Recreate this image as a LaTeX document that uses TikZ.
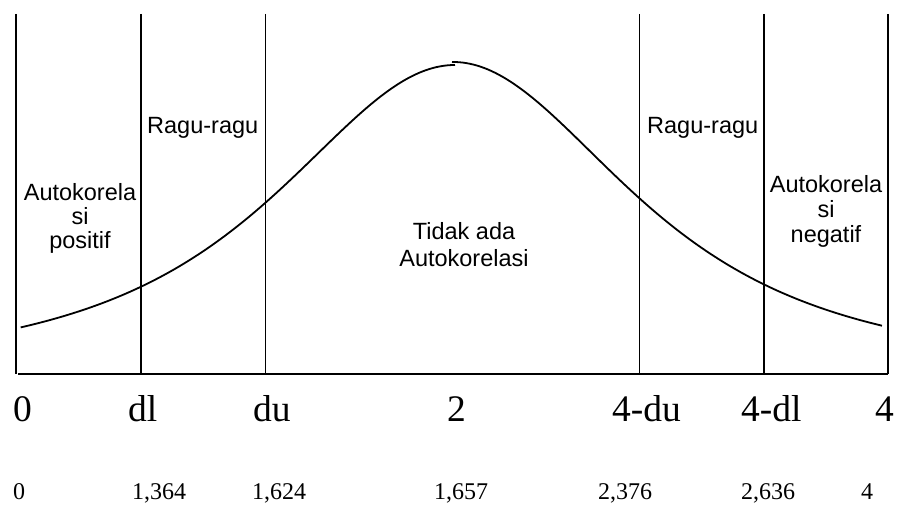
\documentclass[tikz,border=0pt]{standalone}
\usepackage{fontspec}
\setmainfont{Liberation Serif}
\newfontfamily\arialf{Liberation Sans}
\begin{document}
\begin{tikzpicture}[x=1pt,y=-1pt,
  lab/.style={font=\arialf\fontsize{23.5}{24}\selectfont, inner sep=0pt},
  big/.style={font=\fontsize{37.5}{40}\selectfont, inner sep=0pt, anchor=base west},
  val/.style={font=\fontsize{24}{26}\selectfont, inner sep=0pt, anchor=base west},
  bar/.style={line width=1.5pt},
  axisline/.style={line width=2pt},
  curve/.style={line width=1.8pt, line join=round}]
\useasboundingbox (0,0) rectangle (898,510);
% vertical boundaries
\foreach \n/\x in {0/16,1/141,2/265.5,3/639.5,4/764,5/888}{
  \coordinate (t\n) at (\x,14);
  \coordinate (b\n) at (\x,374);
  \draw[bar] (t\n) -- (b\n);
}
\coordinate (h0) at (18,374);
\draw[axisline] (h0) -- (b5);
% curve (two pieces meeting at the peak)
\draw[curve] plot[domain=20.7:455, samples=120, variable=\t]
  (\t,{374-309/(1+((\t-455)/273)^2)^1.5});
\draw[curve] plot[domain=452:882, samples=120, variable=\t]
  (\t,{374-312/(1+((\t-453)/273)^2)^1.5});
% region labels
\node[lab,anchor=base west] (rg1) at (147,134) {Ragu-ragu};
\node[lab,anchor=base west] (rg2) at (647,134) {Ragu-ragu};
\node[lab,anchor=base] (ap1) at (80,201) {Autokorela};
\node[lab,anchor=base] (ap2) at (80,225) {si};
\node[lab,anchor=base] (ap3) at (80,249) {positif};
\node[lab,anchor=base] (an1) at (826,193) {Autokorela};
\node[lab,anchor=base] (an2) at (826,218) {si};
\node[lab,anchor=base] (an3) at (826,243) {negatif};
\node[lab,anchor=base] (td1) at (464,240) {Tidak ada};
\node[lab,anchor=base] (td2) at (464,267) {Autokorelasi};
% axis labels
\node[big] (l0) at (13,422) {0};
\node[big] (l1) at (128,422) {dl};
\node[big] (l2) at (253,422) {du};
\node[big] (l3) at (447,422) {2};
\node[big] (l4) at (612,422) {4-du};
\node[big] (l5) at (741,422) {4-dl};
\node[big] (l6) at (875,422) {4};
% values
\node[val] (v0) at (13,500) {0};
\node[val] (v1) at (132,500) {1,364};
\node[val] (v2) at (252,500) {1,624};
\node[val] (v3) at (434,500) {1,657};
\node[val] (v4) at (598,500) {2,376};
\node[val] (v5) at (741,500) {2,636};
\node[val] (v6) at (861,500) {4};
\end{tikzpicture}
\end{document}
